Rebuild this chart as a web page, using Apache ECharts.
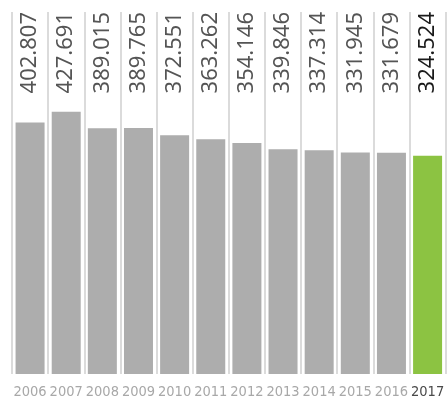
<!DOCTYPE html>
<html>
<head>
<meta charset="utf-8">
<style>
  html, body { margin: 0; padding: 0; background: #fff; }
  #chart { width: 447px; height: 402px; }
</style>
<script src="https://cdn.jsdelivr.net/npm/echarts@6/dist/echarts.min.js"></script>
</head>
<body>
<div id="chart"></div>
<script>
// Yearly totals
const years = ['2006', '2007', '2008', '2009', '2010', '2011', '2012', '2013', '2014', '2015', '2016', '2017'];
const values = [402.807, 427.691, 389.015, 389.765, 372.551, 363.262, 354.146, 339.846, 337.314, 331.945, 331.679, 324.524];

// Value axis range (bars rise from the axis minimum)
const yMin = -188;
const yMax = 662;

const GRAY = '#adadad';
const GREEN = '#8cc342';
const lastIdx = years.length - 1;
const BAR_W = 29;
const YEAR_FONT = '"DejaVu Sans Condensed", "DejaVu Sans", sans-serif';

const chart = echarts.init(document.getElementById('chart'), null, { renderer: 'canvas' });

chart.setOption({
  animation: false,
  grid: { left: 12, right: -3, top: 12, bottom: 28, containLabel: false },
  xAxis: {
    type: 'category',
    data: years,
    boundaryGap: true,
    axisLine: { show: false },
    axisTick: { show: false },
    splitLine: { show: true, interval: 0, lineStyle: { color: '#cfcfcf', width: 1.5 } },
    axisLabel: {
      interval: 0,
      margin: 11,
      formatter: (v, i) => i === lastIdx ? '{cur|' + v + '}' : '{old|' + v + '}',
      rich: {
        old: { fontFamily: YEAR_FONT, fontWeight: 'condensed', fontSize: 14.5, color: '#a8a8a8' },
        cur: { fontFamily: YEAR_FONT, fontWeight: 'condensed', fontSize: 14.5, color: '#4a4a4a' }
      }
    }
  },
  yAxis: {
    type: 'value',
    min: yMin,
    max: yMax,
    show: false,
    splitLine: { show: false }
  },
  series: [
    {
      // bars drawn from the axis minimum up to each value
      type: 'custom',
      silent: true,
      data: values.map((v, i) => [i, v]),
      encode: { x: 0, y: 1 },
      renderItem: (params, api) => {
        const i = api.value(0);
        const top = api.coord([i, api.value(1)]);
        const base = api.coord([i, yMin]);
        return {
          type: 'rect',
          shape: { x: top[0] - BAR_W / 2, y: top[1], width: BAR_W, height: base[1] - top[1] },
          style: { fill: i === lastIdx ? GREEN : GRAY }
        };
      }
    },
    {
      // full-height carrier for the value labels along the top edge
      type: 'bar',
      barWidth: BAR_W,
      silent: true,
      itemStyle: { color: 'rgba(0,0,0,0)' },
      data: values.map((v, i) => ({
        value: yMax,
        label: i === lastIdx ? { color: '#1a1a1a' } : undefined
      })),
      label: {
        show: true,
        position: 'insideTop',
        distance: 0,
        rotate: 90,
        align: 'right',
        verticalAlign: 'middle',
        fontFamily: '"Noto Sans", sans-serif',
        fontSize: 22,
        formatter: (p) => values[p.dataIndex].toFixed(3),
        color: '#555555'
      },
      z: 3
    }
  ]
});
</script>
</body>
</html>
